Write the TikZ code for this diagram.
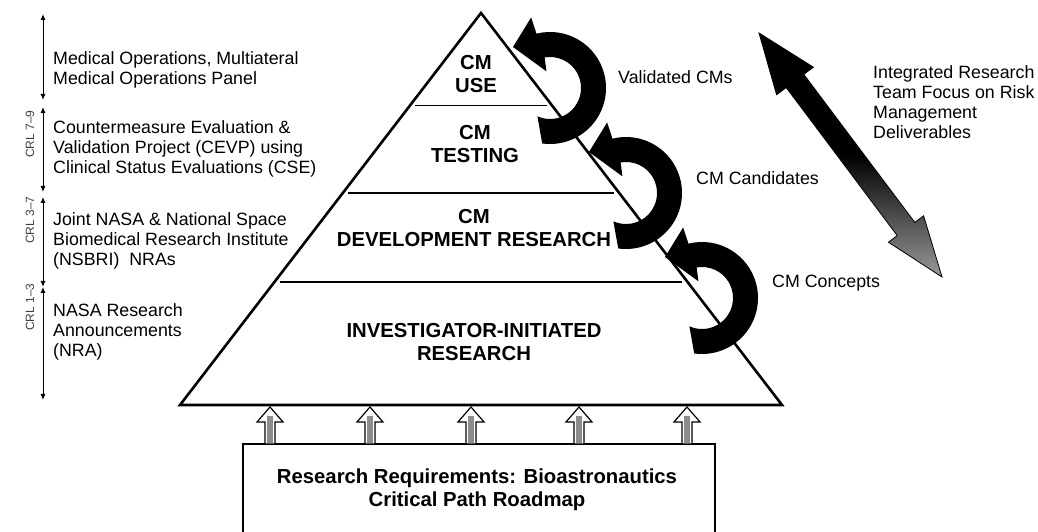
\documentclass[tikz,border=0pt]{standalone}
\usepackage{fontspec}
\setmainfont{Liberation Sans}
\usetikzlibrary{arrows.meta,calc}
\tikzset{
  cmloop/.pic={
    \fill (104:56) arc[start angle=104, end angle=-98, radius=56] -- (-114:31)
      arc[start angle=-114, end angle=100, radius=31] -- (102:17) -- (-37,41) -- (105:73) -- cycle;
  }
}
\begin{document}
\begin{tikzpicture}[x=1pt,y=1pt,
    level/.style={font=\fontsize{20.3}{23}\selectfont\bfseries, align=center},
    note/.style={font=\fontsize{17.8}{20}\selectfont, align=left, anchor=west, inner sep=0pt},
    crl/.style={font=\fontsize{12}{14}\selectfont, text=black!75, rotate=90},
    crlspan/.style={{Latex[length=6pt,width=5pt]}-{Latex[length=6pt,width=5pt]}, line width=1pt},
    divider/.style={line width=1.2pt, shorten <=5pt, shorten >=5pt},
    uparrow/.style={draw, line width=1.2pt, fill=white}]
  \useasboundingbox (0,0) rectangle (1038,532);

  \coordinate (apex) at (481,519);
  \coordinate (bl) at (180,127);
  \coordinate (br) at (782,127);
  \draw[line width=2.6pt] (apex) -- (bl) -- (br) -- cycle;
  \draw[divider] ($(apex)!0.235!(bl)$) -- ($(apex)!0.235!(br)$);
  \draw[divider] ($(apex)!0.459!(bl)$) -- ($(apex)!0.459!(br)$);
  \draw[divider] ($(apex)!0.686!(bl)$) -- ($(apex)!0.686!(br)$);

  \node[level] (use) at (476,458) {CM\\USE};
  \node[level] (testing) at (475,388) {CM\\TESTING};
  \node[level] (devel) at (474,304) {CM\\DEVELOPMENT RESEARCH};
  \node[level] (invest) at (474,190) {INVESTIGATOR-INITIATED\\RESEARCH};

  \node[level] (req) at (477,42) {Research Requirements: Bioastronautics\\Critical Path Roadmap};
  \draw[line width=2.6pt] (243,-5) |- (715,88) -- (715,-5);
  \foreach \x in {270,370,471,579,687} {
    \draw[uparrow] (\x-5,88) -- (\x-5,110) -- (\x-13,110) -- (\x,125) -- (\x+13,110) -- (\x+5,110) -- (\x+5,88) -- cycle;
    \fill[black!45] (\x-3,89) rectangle (\x+3,116);
  }

  \coordinate (c0) at (43,518);
  \coordinate (c1) at (43,432);
  \coordinate (c2) at (43,425);
  \coordinate (c3) at (43,340);
  \coordinate (c4) at (43,335);
  \coordinate (c5) at (43,245);
  \coordinate (c6) at (43,132);
  \draw[crlspan] (c0) -- (c1);
  \draw[crlspan] (c2) -- (c3);
  \draw[crlspan] (c4) -- (c5);
  \draw[crlspan] (c5) -- (c6);

  \node[crl] (crl79) at (30,398) {CRL 7--9};
  \node[crl] (crl37) at (30,312) {CRL 3--7};
  \node[crl] (crl13) at (30,225) {CRL 1--3};

  \node[note] (medops) at (53,462) {Medical Operations, Multiateral\\Medical Operations Panel};
  \node[note] (cevp) at (53,383) {Countermeasure Evaluation \&\\Validation Project (CEVP) using\\Clinical Status Evaluations (CSE)};
  \node[note] (nsbri) at (53,291) {Joint NASA \& National Space\\Biomedical Research Institute\\(NSBRI)\ \ NRAs};
  \node[note] (nra) at (53,200) {NASA Research\\Announcements\\(NRA)};

  \pic at (550,444) {cmloop};
  \pic at (626,339) {cmloop};
  \pic at (702,234) {cmloop};

  \node[note] (validated) at (618,455) {Validated CMs};
  \node[note] (candidates) at (696,354) {CM Candidates};
  \node[note] (concepts) at (772,249) {CM Concepts};
  \node[note] (focus) at (873,430) {Integrated Research\\Team Focus on Risk\\Management\\Deliverables};

  \coordinate (ftop) at (759,499);
  \coordinate (fbot) at (942,255);
  \coordinate (h1) at ($(ftop)!60pt!(fbot)$);
  \coordinate (h2) at ($(fbot)!60pt!(ftop)$);
  \draw[line width=0.8pt, top color=black, bottom color=black!40, middle color=black]
    (ftop) -- ($(h1)!23pt!90:(fbot)$) -- ($(h1)!11pt!90:(fbot)$) -- ($(h2)!11pt!-90:(ftop)$)
    -- ($(h2)!22pt!-90:(ftop)$) -- (fbot) -- ($(h2)!22pt!90:(ftop)$) -- ($(h2)!11pt!90:(ftop)$)
    -- ($(h1)!11pt!-90:(fbot)$) -- ($(h1)!23pt!-90:(fbot)$) -- cycle;
\end{tikzpicture}
\end{document}
